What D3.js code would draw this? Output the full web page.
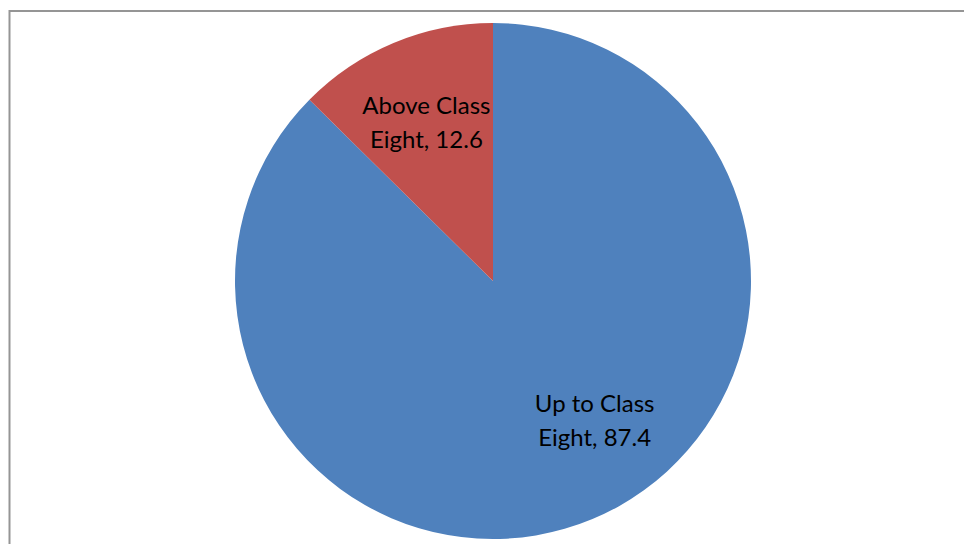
<!DOCTYPE html>
<html>
<head>
<meta charset="utf-8">
<script src="https://cdn.jsdelivr.net/npm/d3@7"></script>
<style>
  body { margin: 0; background: #fff; }
  svg { display: block; }
</style>
</head>
<body>
<svg class="pie-chart" width="964" height="544"></svg>
<script>
const categories = ["Up to Class Eight", "Above Class Eight"];
const values = [87.4, 12.6];
const labelLines = [["Up to Class", "Eight, 87.4"], ["Above Class", "Eight, 12.6"]];
const colors = ["#4F81BD", "#C0504D"];

function drawPieChart() {
    const svg = d3.select("svg.pie-chart");
    const cx = 493, cy = 281, radius = 258;

    // chart frame (runs off right and bottom edges)
    svg.append("rect")
        .attr("x", 9.5).attr("y", 11)
        .attr("width", 1000).attr("height", 600)
        .attr("fill", "none")
        .attr("stroke", "#959595")
        .attr("stroke-width", 2);

    const data = categories.map((c, i) => ({ name: c, value: values[i], lines: labelLines[i], color: colors[i] }));

    const pie = d3.pie().sort(null).value(d => d.value);
    const arc = d3.arc().innerRadius(0).outerRadius(radius);
    const labelArc = d3.arc().innerRadius(0).outerRadius(radius * 1.34);

    const g = svg.append("g").attr("transform", `translate(${cx}, ${cy})`);
    const arcs = pie(data);

    g.selectAll("path.slice")
        .data(arcs)
        .enter().append("path")
        .attr("class", "slice")
        .attr("d", arc)
        .attr("fill", d => d.data.color);

    // best-fit nudge for the big slice, like Excel does
    const nudge = [[35, -20], [0, 0]];

    const labels = g.selectAll("text.label")
        .data(arcs)
        .enter().append("text")
        .attr("class", "label")
        .attr("text-anchor", "middle")
        .attr("font-family", "Lato, 'Open Sans', sans-serif")
        .attr("font-size", 24)
        .attr("fill", "#000")
        .attr("transform", (d, i) => {
            const c = labelArc.centroid(d);
            return `translate(${c[0] + nudge[i][0]}, ${c[1] + nudge[i][1]})`;
        });

    labels.selectAll("tspan")
        .data(d => d.data.lines)
        .enter().append("tspan")
        .attr("x", 0)
        .attr("y", (d, j) => j === 0 ? -8 : 26)
        .text(d => d);
}

drawPieChart();
</script>
</body>
</html>
